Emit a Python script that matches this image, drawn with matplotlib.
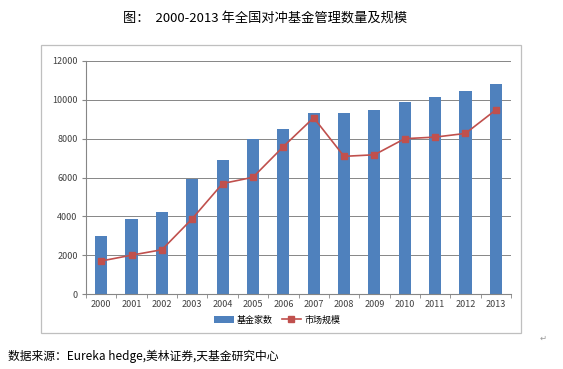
import numpy as np
import matplotlib.pyplot as plt
from matplotlib.patches import Rectangle

plt.rcParams['font.family'] = ['Noto Sans CJK SC', 'DejaVu Sans']

# datos
years = ['2000', '2001', '2002', '2003', '2004', '2005', '2006',
         '2007', '2008', '2009', '2010', '2011', '2012', '2013']
fund_count = [3000, 3880, 4200, 5930, 6920, 7980, 8490,
              9300, 9300, 9480, 9900, 10170, 10460, 10790]
market_size = [1700, 2000, 2280, 3880, 5690, 6010, 7590,
               9080, 7090, 7170, 8000, 8080, 8270, 9480]
yticks = [0, 2000, 4000, 6000, 8000, 10000, 12000]

fig = plt.figure(figsize=(5.63, 3.69), dpi=100)
W, H = 563.0, 369.0

# marco del grafico
fig.patches.append(Rectangle((41 / W, 1 - 333 / H), 480 / W, 288 / H,
                             transform=fig.transFigure, fill=False,
                             edgecolor='#BFBFBF', linewidth=0.9))

ax = fig.add_axes([86 / W, 1 - 294 / H, 425 / W, 233 / H])
x = np.arange(len(years))
b = ax.bar(x, fund_count, width=0.4, color='#4F81BD', label='基金家数', zorder=2)
l, = ax.plot(x, market_size, color='#C0504D', marker='s', markersize=4.5,
             linewidth=1.2, label='市场规模', zorder=3)

ax.set_xlim(-0.5, len(years) - 0.5)
ax.set_ylim(0, 12000)
ax.set_yticks(yticks)
ax.set_yticklabels([str(v) for v in yticks], fontsize=6.5, color='#404040')
ax.set_xticks(x)
ax.set_xticklabels(years, fontsize=6.5, color='#404040')
ax.set_xticks(np.arange(-0.5, len(years)), minor=True)
ax.tick_params(axis='x', which='major', length=0, pad=4)
ax.tick_params(axis='x', which='minor', length=3, color='#868686')
ax.tick_params(axis='y', length=3, color='#868686', pad=3)
ax.grid(axis='y', color='#868686', linewidth=0.7, zorder=0)
for s in ['top', 'right']:
    ax.spines[s].set_visible(False)
ax.spines['left'].set_color('#868686')
ax.spines['bottom'].set_color('#868686')

fig.legend([b, l], ['基金家数', '市场规模'], loc='center',
           bbox_to_anchor=(277 / W, 1 - 320 / H), ncol=2,
           frameon=False, fontsize=6.5, handlelength=2.2, columnspacing=1.0,
           handletextpad=0.3)

fig.text(265 / W, 1 - 18 / H, '图：  2000-2013 年全国对冲基金管理数量及规模',
         ha='center', va='center', fontsize=9.5)
fig.text(8 / W, 1 - 356 / H, '数据来源：Eureka hedge,美林证券,天基金研究中心',
         ha='left', va='center', fontsize=8.5)
fig.text(543 / W, 1 - 338 / H, '↵', ha='center', va='center', fontsize=6,
         color='#999999', family=['DejaVu Sans'])

fig.savefig('out.png', dpi=100)
